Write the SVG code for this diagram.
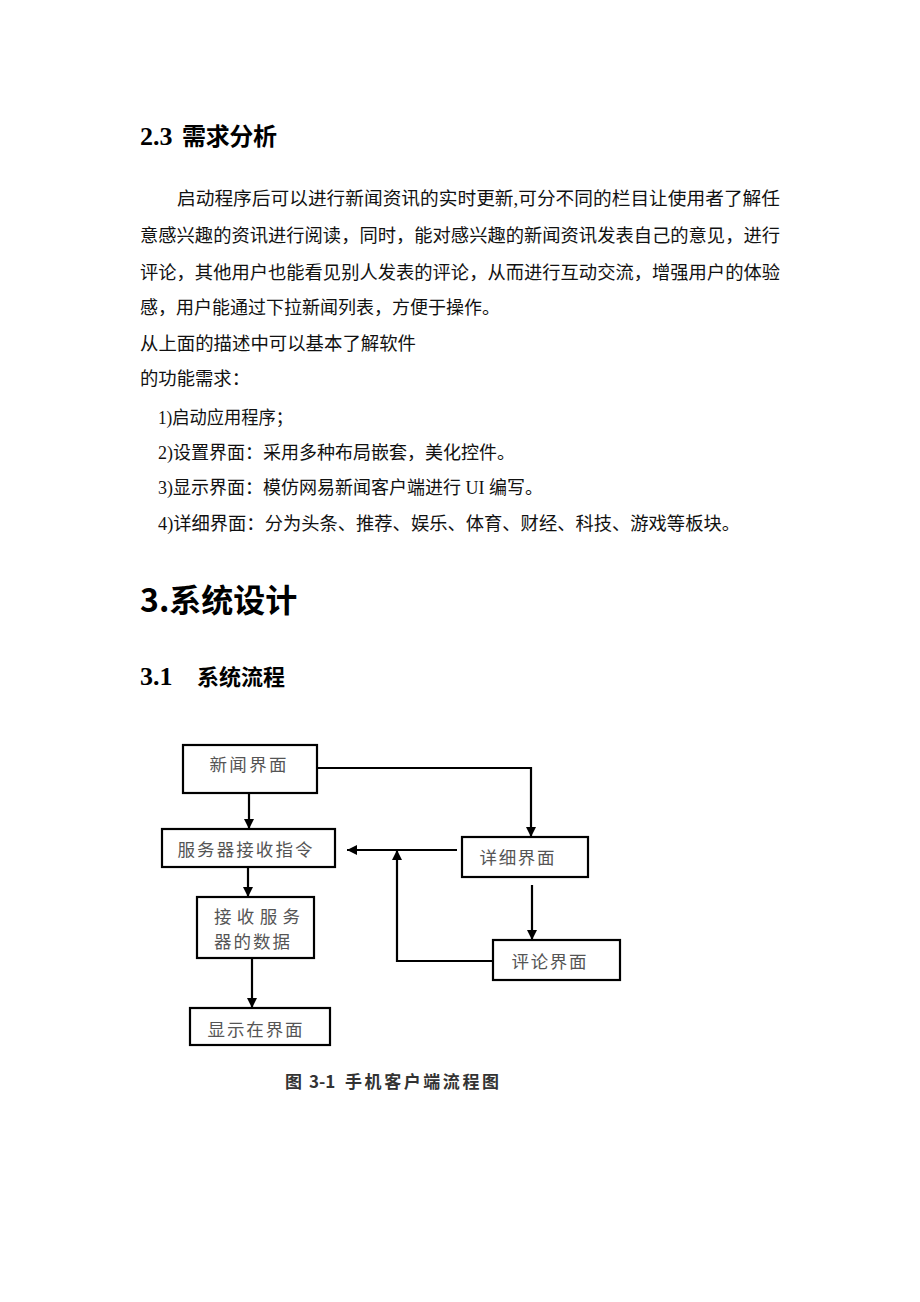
<svg xmlns="http://www.w3.org/2000/svg" width="920" height="1302" viewBox="0 0 920 1302">
<style>
.h{font-family:"Liberation Serif","Noto Sans CJK SC",serif;font-weight:bold;fill:#000}
.h2{font-family:"Noto Sans CJK SC",sans-serif;font-weight:bold;fill:#000}
.p{font-family:"Liberation Serif","Noto Sans CJK SC",serif;font-size:18.4px;fill:#111}
.box{fill:#fff;stroke:#000;stroke-width:2.2}
.bt{font-family:"Liberation Serif","Noto Sans CJK SC",serif;font-size:17.5px;fill:#555}
.ln{fill:none;stroke:#000;stroke-width:2.2}
.cap{font-family:"Noto Sans CJK SC",sans-serif;font-size:17px;font-weight:bold;fill:#333}
</style>
<defs>
<marker id="ah" viewBox="0 0 10 10" refX="10" refY="5" markerWidth="10" markerHeight="10" markerUnits="userSpaceOnUse" orient="auto">
<path d="M0,0 L10,5 L0,10 Z" fill="#000"/>
</marker>
</defs>
<rect width="920" height="1302" fill="#fff"/>
<g id="text">
<text><tspan class="h" x="140" y="145" font-size="26">2.3</tspan><tspan class="h2" x="182" y="145" font-size="24" textLength="95">需求分析</tspan></text>
<text class="p" x="177" y="205" textLength="603" lengthAdjust="spacingAndGlyphs">启动程序后可以进行新闻资讯的实时更新,可分不同的栏目让使用者了解任</text>
<text class="p" x="140" y="242" textLength="640" lengthAdjust="spacingAndGlyphs">意感兴趣的资讯进行阅读，同时，能对感兴趣的新闻资讯发表自己的意见，进行</text>
<text class="p" x="140" y="279" textLength="640" lengthAdjust="spacingAndGlyphs">评论，其他用户也能看见别人发表的评论，从而进行互动交流，增强用户的体验</text>
<text class="p" x="140" y="314" textLength="360" lengthAdjust="spacingAndGlyphs">感，用户能通过下拉新闻列表，方便于操作。</text>
<text class="p" x="140" y="350" textLength="276" lengthAdjust="spacingAndGlyphs">从上面的描述中可以基本了解软件</text>
<text class="p" x="140" y="385" textLength="110" lengthAdjust="spacingAndGlyphs">的功能需求：</text>
<text class="p" x="158" y="424" textLength="135" lengthAdjust="spacingAndGlyphs">1)启动应用程序；</text>
<text class="p" x="158" y="459" textLength="357" lengthAdjust="spacingAndGlyphs">2)设置界面：采用多种布局嵌套，美化控件。</text>
<text class="p" x="158" y="494" textLength="385" lengthAdjust="spacingAndGlyphs">3)显示界面：模仿网易新闻客户端进行 UI 编写。</text>
<text class="p" x="158" y="530" textLength="582" lengthAdjust="spacingAndGlyphs">4)详细界面：分为头条、推荐、娱乐、体育、财经、科技、游戏等板块。</text>
<text class="h2" x="140" y="612" font-size="32">3.系统设计</text>
<text><tspan class="h" x="140" y="685" font-size="26">3.1</tspan><tspan class="h2" x="197" y="685" font-size="22">系统流程</tspan></text>
</g>
<g id="connectors">
<line class="ln" x1="249" y1="793" x2="249" y2="829" marker-end="url(#ah)"/>
<polyline class="ln" points="317,768 531,768 531,837" marker-end="url(#ah)"/>
<line class="ln" x1="457" y1="850" x2="347" y2="850" marker-end="url(#ah)"/>
<polyline class="ln" points="493,961 397,961 397,850" marker-end="url(#ah)"/>
<line class="ln" x1="248" y1="867" x2="248" y2="897" marker-end="url(#ah)"/>
<line class="ln" x1="532" y1="885" x2="532" y2="940" marker-end="url(#ah)"/>
<line class="ln" x1="252" y1="958" x2="252" y2="1008" marker-end="url(#ah)"/>
</g>
<g id="n-news"><rect class="box" x="183" y="745" width="134" height="48"/><text class="bt" x="248" y="771" text-anchor="middle" textLength="77">新闻界面</text></g>
<g id="n-server"><rect class="box" x="162" y="829" width="173" height="38"/><text class="bt" x="245" y="856" text-anchor="middle" textLength="135">服务器接收指令</text></g>
<g id="n-detail"><rect class="box" x="462" y="837" width="126" height="40"/><text class="bt" x="517" y="864" text-anchor="middle" textLength="75">详细界面</text></g>
<g id="n-recv"><rect class="box" x="197" y="897" width="117" height="61"/><text class="bt" x="214" y="923" textLength="86">接收服务</text><text class="bt" x="214" y="948" textLength="76">器的数据</text></g>
<g id="n-comment"><rect class="box" x="493" y="940" width="127" height="40"/><text class="bt" x="549" y="968" text-anchor="middle" textLength="75">评论界面</text></g>
<g id="n-show"><rect class="box" x="190" y="1008" width="140" height="37"/><text class="bt" x="255" y="1036" text-anchor="middle" textLength="95">显示在界面</text></g>
<g id="caption"><text class="cap" y="1088"><tspan x="285">图</tspan><tspan x="309">3-1</tspan><tspan x="345" textLength="154">手机客户端流程图</tspan></text></g>
</svg>
